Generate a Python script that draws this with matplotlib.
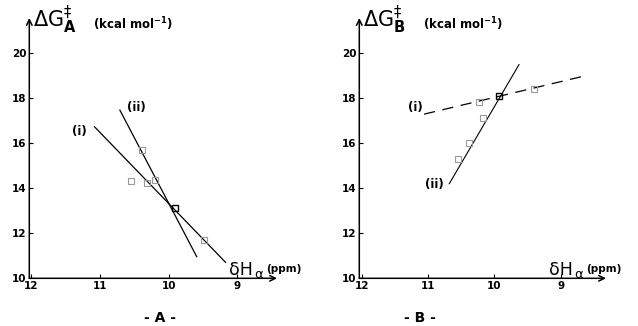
import matplotlib
matplotlib.use("Agg")
import matplotlib.pyplot as plt

# ---- data ----
y_ticks = [10, 12, 14, 16, 18, 20]
x_ticks = [12, 11, 10, 9]

# Panel A
A_line_i_x = [11.08, 9.17]
A_line_i_y = [16.73, 10.71]
A_line_ii_x = [10.71, 9.59]
A_line_ii_y = [17.47, 10.96]
A_pts_x = [10.39, 10.55, 10.32, 10.20, 9.49]
A_pts_y = [15.70, 14.30, 14.25, 14.35, 11.70]
A_cross_x = [9.91]
A_cross_y = [13.10]

# Panel B
B_line_i_x = [11.06, 8.68]
B_line_i_y = [17.29, 18.96]
B_line_ii_x = [10.68, 9.63]
B_line_ii_y = [14.20, 19.49]
B_pts_x = [10.17, 10.39, 10.55, 10.23, 9.41]
B_pts_y = [17.10, 16.00, 15.30, 17.85, 18.40]
B_cross_x = [9.93]
B_cross_y = [18.10]

W, H = 638, 326
fig = plt.figure(figsize=(W / 100, H / 100), dpi=100)
fig.patch.set_facecolor("white")

def make_axes(left_px, right_px, xlim):
    ax = fig.add_axes([left_px / W, (H - 278.3) / H,
                       (right_px - left_px) / W, (278.3 - 18) / H])
    ax.set_xlim(*xlim)
    ax.set_ylim(10, 21.56)
    for s in ax.spines.values():
        s.set_visible(False)
    ax.set_xticks(x_ticks)
    ax.set_yticks(y_ticks)
    ax.set_xticklabels([str(t) for t in x_ticks], fontsize=7.5, fontweight="bold")
    ax.set_yticklabels([str(t) for t in y_ticks], fontsize=7.5, fontweight="bold")
    ax.tick_params(direction="in", length=3, width=0.8, pad=2)
    ax.annotate("", xy=(1, 0), xytext=(0, 0), xycoords="axes fraction",
                arrowprops=dict(arrowstyle="->", lw=1.1, color="k",
                                shrinkA=0, shrinkB=0, mutation_scale=10))
    ax.annotate("", xy=(0, 1), xytext=(0, 0), xycoords="axes fraction",
                arrowprops=dict(arrowstyle="->", lw=1.1, color="k",
                                shrinkA=0, shrinkB=0, mutation_scale=10))
    return ax

axA = make_axes(29.3, 277, (12.03, 8.42))
axB = make_axes(359.3, 606, (12.035, 8.32))

# Panel A drawing
axA.plot(A_line_i_x, A_line_i_y, color="k", lw=0.9)
axA.plot(A_line_ii_x, A_line_ii_y, color="k", lw=0.9)
axA.plot(A_pts_x, A_pts_y, ls="none", marker="s", ms=4.5, mfc="none",
         mec="#999999", mew=0.8)
axA.plot(A_cross_x, A_cross_y, ls="none", marker="s", ms=5, mfc="none",
         mec="k", mew=1.0)
axA.text(11.2, 16.5, "(i)", fontsize=8.5, fontweight="bold", ha="right", va="center")
axA.text(10.6, 17.6, "(ii)", fontsize=8.5, fontweight="bold", ha="left", va="center")

# Panel B drawing
axB.plot(B_line_i_x, B_line_i_y, color="k", lw=0.9, ls=(0, (9, 6)))
axB.plot(B_line_ii_x, B_line_ii_y, color="k", lw=0.8)
axB.plot(B_pts_x, B_pts_y, ls="none", marker="s", ms=4.5, mfc="none",
         mec="#999999", mew=0.8)
axB.plot(B_cross_x, B_cross_y, ls="none", marker="s", ms=5, mfc="none",
         mec="k", mew=1.0)
axB.text(11.08, 17.6, "(i)", fontsize=8.5, fontweight="bold", ha="right", va="center")
axB.text(10.76, 14.15, "(ii)", fontsize=8.5, fontweight="bold", ha="right", va="center")

# Titles / axis captions
for x0, sub in [(33, "A"), (363, "B")]:
    fig.text(x0 / W, 1 - 20 / H, r"$\Delta\mathrm{G}^{\ddagger}_{\mathbf{%s}}$" % sub,
             fontsize=15, ha="left", va="center")
    fig.text((x0 + 60) / W, 1 - 24 / H, "(kcal mol$^{\\mathbf{-1}}$)",
             fontsize=8.5, fontweight="bold", ha="left", va="center")

for x0 in (229, 549):
    fig.text(x0 / W, 1 - 270 / H, "δH", fontsize=12.5, ha="left", va="center")
    fig.text((x0 + 25) / W, 1 - 274 / H, "α", fontsize=9.5, ha="left", va="center")
    fig.text((x0 + 37) / W, 1 - 269 / H, "(ppm)",
             fontsize=7.5, fontweight="bold", ha="left", va="center")

fig.text(160 / W, 1 - 318 / H, "- A -", fontsize=10, fontweight="bold",
         ha="center", va="center")
fig.text(420 / W, 1 - 318 / H, "- B -", fontsize=10, fontweight="bold",
         ha="center", va="center")

fig.savefig("out.png", dpi=100, facecolor="white")
